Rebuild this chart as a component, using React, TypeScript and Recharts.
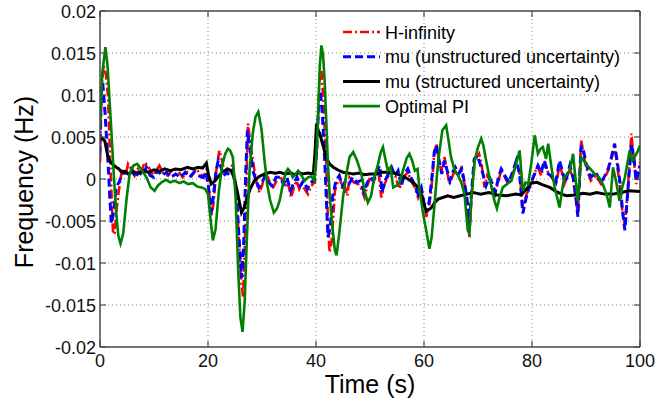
import React from 'react';
import { LineChart, Line, XAxis, YAxis, CartesianGrid, ReferenceLine, Legend } from 'recharts';

// ---------------- data (time s, frequency deviation Hz) ----------------
const xTicks = [0, 20, 40, 60, 80, 100];
const xTickLabels = ['0', '20', '40', '60', '80', '100'];
const yTicks = [-0.02, -0.015, -0.01, -0.005, 0, 0.005, 0.01, 0.015, 0.02];
const yTickLabels = ['-0.02', '-0.015', '-0.01', '-0.005', '0', '0.005', '0.01', '0.015', '0.02'];

const seriesNames = ['H-infinity', 'mu (unstructured uncertainty)', 'mu (structured uncertainty)', 'Optimal PI'];

const hInfinity: [number, number][] = [
  [0, 0.002], [0.3, 0.011], [0.7, 0.0135], [1.1, 0.0125], [1.5, 0.0097], [1.8, 0.0038], [2.1, -0.0014], [2.4, -0.0062],
  [2.7, -0.0066], [3.0, -0.004], [3.4, -0.0018], [3.9, 0.0004], [4.3, 0.0012], [4.8, 0.0006], [5.2, 0.0018], [5.8, 0.0012],
  [6.4, 0.0004], [7.0, 0.0012], [7.6, 0.0008], [8.3, 0.002], [9.0, 0.0014], [9.8, 0.0004], [10.4, 0.001], [11.0, 0.0016],
  [11.8, 0.0006], [12.6, 0.0004], [13.5, 0.0012], [14.4, 0.001], [15.3, 0.0002], [16.2, 0.0008], [17.0, 0.0004],
  [17.8, 0.0012], [18.6, 0.0006], [19.2, 0.0002], [19.7, 0.0012], [20.2, -0.0015], [20.6, -0.0045], [21.0, -0.003],
  [21.5, 0.0008], [22.1, 0.0034], [22.6, 0.0022], [23.1, 0.0006], [23.6, 0.0012], [24.0, 0.001], [24.5, 0.0016],
  [24.9, 0.0002], [25.3, -0.002], [25.7, -0.007], [26.1, -0.012], [26.5, -0.014], [26.9, -0.006], [27.4, 0.0066],
  [27.9, 0.004], [28.6, 0.001], [29.0, -0.0004], [29.5, -0.0016], [30.0, -0.0008], [30.6, 0.0006], [31.1, 0.0002],
  [31.9, -0.0012], [32.7, -0.0002], [33.4, 0.0004], [34.2, -0.001], [34.8, -0.0004], [35.4, -0.0022], [35.9, -0.001],
  [36.4, -0.0002], [36.9, -0.0012], [37.3, -0.0006], [37.9, -0.0012], [38.5, -0.0018], [39.0, -0.001], [39.4, -0.0006],
  [39.8, -0.0004], [40.2, 0.004], [40.6, 0.0115], [41.0, 0.013], [41.4, 0.009], [41.9, 0.0018], [42.2, -0.005],
  [42.5, -0.0087], [42.9, -0.0075], [43.5, -0.0014], [44.0, -0.0004], [44.4, 0.0002], [44.9, -0.0012], [45.3, -0.0008],
  [45.8, -0.002], [46.2, 0.0002], [47.0, -0.0004], [47.8, -0.0006], [48.4, -0.0012], [49.0, -0.0022], [49.5, -0.0008],
  [50.0, 0.0002], [50.6, -0.0004], [51.1, 0.0008], [51.5, 0.0012], [52.1, -0.0022], [52.7, -0.0006], [53.3, 0.0002],
  [54.0, 0.0012], [54.6, 0.0006], [55.2, -0.0008], [55.8, -0.001], [56.4, 0.0004], [57.0, 0.0008], [57.6, -0.0002],
  [58.3, -0.001], [58.9, -0.0022], [59.5, -0.0012], [60.0, -0.003], [60.4, -0.0045], [60.9, -0.0035], [61.4, -0.001],
  [61.9, 0.003], [62.3, 0.0042], [62.8, 0.002], [63.2, 0.001], [63.8, 0.0026], [64.3, 0.0008], [64.7, -0.0006],
  [65.2, 0.0002], [65.7, 0.001], [66.3, 0.0004], [66.8, 0.0012], [67.5, -0.0006], [68.0, -0.003], [68.4, -0.0069],
  [68.8, -0.002], [69.4, 0.0022], [70.2, 0.003], [70.7, 0.0016], [71.2, -0.001], [71.7, 0.0004], [72.2, -0.0002],
  [72.7, -0.0012], [73.1, -0.0018], [73.7, -0.0004], [74.3, 0.001], [75.0, 0.0002], [75.6, -0.0006], [76.3, 0.0004],
  [77.1, 0.0018], [77.7, 0.0008], [78.3, -0.0034], [79.0, -0.0018], [79.9, -0.0006], [80.5, 0.0008], [81.1, 0.0014],
  [81.7, 0.0004], [82.3, 0.0018], [83.0, 0.0008], [83.6, 0.0002], [84.5, -0.0006], [85.1, 0.0018], [85.6, 0.0006],
  [86.0, -0.0006], [86.5, 0.0002], [86.9, 0.0012], [87.5, 0.0004], [88.0, -0.0018], [88.5, -0.0041], [89.1, 0.0046],
  [89.6, 0.0028], [90.0, 0.0014], [90.9, -0.0002], [91.8, 0.0004], [92.8, -0.0006], [93.5, 0.0002], [94.1, 0.001],
  [94.7, 0.0024], [95.3, 0.0038], [95.8, 0.0016], [96.2, -0.0006], [96.7, -0.0036], [97.2, -0.0055], [97.8, -0.0006],
  [98.4, 0.0054], [98.9, 0.002], [99.3, -0.0006], [100, 0.002],
];

const muUnstructured: [number, number][] = [
  [0, 0.003], [0.2, 0.01], [0.5, 0.0115], [0.9, 0.0082], [1.2, 0.005], [1.5, 0.0018], [1.8, -0.002], [2.1, -0.0053],
  [2.5, -0.004], [3.0, -0.001], [3.5, -0.0004], [3.9, 0.0002], [4.5, 0.0008], [5.2, 0.0006], [5.9, 0.0012], [6.5, 0.0002],
  [7.2, 0.0008], [7.9, 0.0004], [8.6, 0.0014], [9.3, 0.0004], [10.0, 0.0002], [10.7, 0.001], [11.5, 0.0004], [12.3, 0.0008],
  [13.1, 0.0002], [14.0, 0.0006], [14.9, 0.0002], [15.8, 0.0008], [16.6, 0.0002], [17.4, 0.0008], [18.2, 0.0004],
  [19.0, 0.0002], [19.6, 0.0008], [20.1, -0.001], [20.6, -0.004], [21.0, -0.002], [21.5, 0.001], [21.9, 0.0022],
  [22.4, 0.0014], [22.9, 0.0004], [23.5, 0.0008], [24.0, 0.0004], [24.5, 0.001], [24.9, 0.0002], [25.3, -0.002],
  [25.7, -0.0065], [26.2, -0.0118], [26.6, -0.008], [27.0, 0.001], [27.3, 0.0058], [27.8, 0.0035], [28.4, 0.0008],
  [28.9, -0.0002], [29.4, -0.001], [30.0, -0.0004], [30.6, 0.0004], [31.2, -0.0004], [31.9, -0.0008], [32.6, 0.0002],
  [33.3, 0.0002], [34.0, -0.0006], [34.6, 0.0002], [35.3, -0.0014], [35.9, -0.0004], [36.5, 0.0002], [37.1, -0.0008],
  [37.7, -0.0002], [38.4, -0.0012], [39.0, -0.0004], [39.6, -0.0002], [40.1, 0.003], [40.5, 0.009], [40.8, 0.0105],
  [41.2, 0.0075], [41.7, 0.001], [42.2, -0.0069], [42.6, -0.006], [43.1, -0.002], [43.7, -0.0002], [44.3, 0.0004],
  [44.9, -0.0008], [45.5, -0.0002], [46.1, -0.0006], [46.8, 0.0002], [47.5, -0.0004], [48.2, -0.0002], [48.9, -0.0016],
  [49.5, -0.0004], [50.1, 0.0002], [50.7, -0.0002], [51.3, 0.001], [51.8, 0.0016], [52.2, -0.0016], [52.8, -0.0002],
  [53.4, 0.0006], [54.0, 0.0014], [54.6, 0.0004], [55.2, 0.001], [55.8, -0.0008], [56.4, 0.0006], [57.0, 0.0012],
  [57.6, 0.0002], [58.2, -0.0006], [58.9, -0.0018], [59.5, -0.001], [60.0, -0.0028], [60.5, -0.004], [61.0, -0.0025],
  [61.5, 0.0004], [61.9, 0.0032], [62.3, 0.004], [62.8, 0.0022], [63.3, 0.0006], [63.8, 0.0022], [64.3, 0.001],
  [64.8, -0.0002], [65.3, 0.0008], [65.8, 0.0014], [66.4, 0.0006], [67.0, 0.0012], [67.5, -0.0004], [68.0, -0.0025],
  [68.4, -0.0058], [68.8, -0.0015], [69.3, 0.0024], [69.8, 0.0028], [70.4, 0.0018], [71.0, 0.0004], [71.5, -0.0008],
  [72.1, 0.0002], [72.7, -0.0006], [73.2, -0.0016], [73.8, 0.0002], [74.3, 0.0012], [75.0, 0.0004], [75.7, -0.0004],
  [76.4, 0.0008], [77.1, 0.0022], [77.7, 0.0006], [78.3, -0.0041], [79.0, -0.002], [79.8, -0.0004], [80.5, 0.0006],
  [81.1, 0.0016], [81.7, 0.0008], [82.3, 0.0022], [83.0, 0.0006], [83.6, 0.0004], [84.4, -0.0004], [85.1, 0.0022],
  [85.6, 0.001], [86.1, -0.0004], [86.6, 0.0006], [87.0, 0.0016], [87.6, 0.0002], [88.1, -0.002], [88.5, -0.0045],
  [89.1, 0.004], [89.6, 0.0032], [90.1, 0.0016], [90.9, 0.0002], [91.8, 0.0008], [92.8, -0.0004], [93.5, 0.0004],
  [94.1, 0.0012], [94.7, 0.0026], [95.3, 0.0042], [95.8, 0.002], [96.3, -0.0004], [96.8, -0.004], [97.2, -0.0061],
  [97.8, -0.001], [98.4, 0.0042], [98.9, 0.0024], [99.3, -0.0002], [100, 0.0016],
];

const muStructured: [number, number][] = [
  [0, 0.005], [0.5, 0.0048], [0.9, 0.0045], [1.3, 0.0032], [1.6, 0.0024], [2.0, 0.002], [2.4, 0.0017], [3.0, 0.0014],
  [3.5, 0.0012], [4.0, 0.0008], [4.6, 0.0009], [5.3, 0.0006], [6.0, 0.0009], [7.0, 0.0007], [8.0, 0.001], [9.0, 0.0008],
  [10.0, 0.0011], [11.0, 0.0009], [12.0, 0.0012], [13.0, 0.001], [14.0, 0.0012], [15.0, 0.0011], [16.2, 0.0014],
  [17.2, 0.0012], [18.2, 0.0014], [19.0, 0.0013], [19.7, 0.0019], [20.1, 0.0005], [20.6, -0.0006], [21.2, -0.0003],
  [21.8, 0.0002], [22.6, 0.0008], [23.6, 0.0012], [24.3, 0.001], [24.8, 0.0002], [25.4, -0.0014], [26.2, -0.004],
  [26.7, -0.0034], [27.1, -0.0026], [27.8, -0.0012], [28.6, -0.0002], [29.5, 0.0003], [30.5, 0.0006], [31.5, 0.0008],
  [32.5, 0.0007], [33.3, 0.0008], [34.3, 0.0006], [35.3, 0.0007], [36.2, 0.0005], [36.7, 0.0008], [37.5, 0.0006],
  [38.5, 0.0007], [39.5, 0.0006], [39.8, 0.003], [40.1, 0.0066], [40.4, 0.0058], [40.7, 0.0054], [41.2, 0.0042],
  [41.9, 0.0026], [42.5, 0.0018], [43.2, 0.0014], [44.0, 0.0011], [45.0, 0.0008], [46.0, 0.0007], [46.9, 0.0006],
  [48.0, 0.0007], [49.0, 0.0005], [50.0, 0.0006], [51.2, 0.0006], [52.1, 0.0008], [53.0, 0.0008], [54.3, 0.0007],
  [55.0, 0.0006], [56.5, 0.0002], [58.0, -0.0004], [59.2, -0.0012], [59.8, -0.0026], [60.4, -0.0038], [61.0, -0.0036],
  [61.4, -0.0034], [62.0, -0.0028], [62.6, -0.0024], [63.5, -0.0022], [64.4, -0.002], [65.5, -0.0022], [66.7, -0.002],
  [68.0, -0.0018], [69.1, -0.0016], [70.5, -0.0018], [72.0, -0.0016], [73.5, -0.0019], [75.3, -0.002], [77.0, -0.0018],
  [78.0, -0.0019], [79.0, -0.0012], [79.8, -0.0005], [80.9, -0.0004], [82.0, -0.0007], [83.3, -0.001], [84.5, -0.0015],
  [85.5, -0.0018], [86.4, -0.002], [88.0, -0.0019], [89.5, -0.0017], [90.7, -0.0018], [92.0, -0.0016], [93.5, -0.0018],
  [95.0, -0.0018], [96.5, -0.0016], [98.0, -0.0014], [100, -0.0015],
];

const optimalPI: [number, number][] = [
  [0, 0.006], [0.4, 0.0125], [1.0, 0.0157], [1.4, 0.0135], [1.8, 0.009], [2.1, 0.0058], [2.6, 0.0], [3.0, -0.004],
  [3.4, -0.0068], [3.8, -0.0077], [4.3, -0.0065], [4.9, -0.0025], [5.5, 0.0007], [6.2, 0.0016], [6.9, 0.0018],
  [7.6, 0.0012], [8.6, 0.0002], [9.4, -0.001], [10.1, -0.0014], [10.7, -0.0008], [11.4, -0.0004], [12.2, -0.0001],
  [13.0, -0.0004], [13.8, -0.0002], [14.7, -0.0005], [15.5, -0.0003], [16.3, -0.0006], [17.2, -0.0005], [18.0, -0.0009],
  [18.8, -0.001], [19.5, -0.0012], [20.0, -0.0018], [20.5, -0.005], [20.9, -0.0073], [21.4, -0.006], [22.0, -0.0015],
  [22.6, 0.0015], [23.2, 0.003], [23.7, 0.0036], [24.1, 0.0034], [24.6, 0.0026], [25.1, -0.002], [25.6, -0.011],
  [26.0, -0.0165], [26.4, -0.0182], [26.8, -0.0145], [27.2, -0.007], [27.7, 0.001], [28.3, 0.0055], [28.8, 0.0074],
  [29.3, 0.008], [29.9, 0.006], [30.5, 0.002], [31.0, -0.0008], [31.5, -0.0025], [32.2, -0.004], [32.8, -0.0035],
  [33.3, -0.0025], [33.9, -0.0005], [34.4, 0.0008], [34.8, 0.0012], [35.3, 0.0008], [35.7, 0.0002], [36.2, 0.0006],
  [36.7, 0.001], [37.3, 0.0004], [37.9, -0.0002], [38.5, 0.0002], [39.1, 0.0003], [39.7, -0.0002], [40.1, 0.003],
  [40.4, 0.0078], [40.7, 0.0135], [41.0, 0.0159], [41.3, 0.0148], [41.6, 0.0117], [41.9, 0.007], [42.2, 0.0018],
  [42.6, -0.0025], [43.1, -0.0061], [43.5, -0.0085], [43.8, -0.0091], [44.3, -0.0065], [45.0, -0.0022], [45.6, 0.0005],
  [46.2, 0.0026], [46.9, 0.0032], [47.6, 0.0022], [48.4, 0.0006], [49.0, -0.0014], [49.6, -0.0028], [50.2, -0.002],
  [50.8, 0.0002], [51.5, 0.0018], [52.0, 0.0032], [52.4, 0.0038], [52.9, 0.0022], [53.3, 0.001], [53.8, 0.0014],
  [54.3, -0.001], [54.9, -0.0008], [55.5, -0.0004], [56.2, 0.0012], [56.8, 0.0025], [57.3, 0.003], [57.8, 0.0022],
  [58.3, 0.001], [58.8, 0.0012], [59.2, -0.0014], [59.8, -0.004], [60.4, -0.0061], [61.0, -0.0083], [61.4, -0.007],
  [61.9, -0.0034], [62.4, 0.0005], [62.8, 0.003], [63.4, 0.0058], [64.1, 0.0064], [64.5, 0.0048], [65.0, 0.0026],
  [65.6, 0.0012], [66.3, 0.0004], [66.9, -0.0004], [67.5, -0.0018], [68.1, -0.0061], [68.4, -0.0065], [68.8, -0.002],
  [69.4, 0.0022], [70.0, 0.0038], [70.6, 0.0048], [71.0, 0.004], [71.5, 0.0022], [72.0, 0.0006], [72.5, -0.001],
  [73.0, -0.0025], [73.5, -0.0035], [74.0, -0.0022], [74.6, -0.001], [75.4, -0.0006], [76.2, -0.0002], [76.9, 0.0014],
  [77.4, 0.0026], [77.7, 0.0034], [78.3, -0.0014], [78.8, -0.0004], [79.3, -0.0006], [79.9, 0.002], [80.5, 0.0052],
  [81.1, 0.003], [81.6, 0.0036], [82.0, 0.0038], [82.6, 0.0024], [83.0, 0.0042], [83.6, 0.0014], [84.2, -0.001],
  [85.1, -0.0034], [85.6, -0.0012], [86.0, 0.0002], [87.0, 0.001], [87.6, 0.003], [88.0, 0.0004], [88.5, -0.0026],
  [89.1, 0.0026], [90.0, 0.0018], [90.8, 0.0012], [91.6, 0.0006], [92.4, 0.0002], [93.1, -0.0006], [93.8, -0.0018],
  [94.4, -0.0034], [95.0, 0.0014], [95.6, -0.0004], [96.2, -0.0026], [96.7, -0.001], [97.2, 0.0002], [97.7, 0.002],
  [98.1, 0.0034], [98.6, 0.0022], [99.0, 0.0026], [99.5, 0.0032], [100, 0.004],
];

// ---------------- layout / style ----------------
const W = 661;
const H = 402;
const MARGIN = { top: 11, right: 21, bottom: 0, left: 0 };
const Y_AXIS_W = 100;
const X_AXIS_H = 55;
const PLOT_RIGHT = W - MARGIN.right;
const PLOT_TOP = MARGIN.top;
const FONT = "'Liberation Sans', Arial, Helvetica, sans-serif";
const AXIS_COLOR = '#4a4a4a';
const TICK_LEN = 6;

const styles = [
  { color: '#ff0000', dash: '9 3 2 3', width: 2.6 },
  { color: '#0000ff', dash: '8 4', width: 3 },
  { color: '#000000', dash: undefined as string | undefined, width: 3 },
  { color: '#008000', dash: undefined as string | undefined, width: 2.6 },
];

const toPoints = (arr: [number, number][]) => arr.map(([t, v]) => ({ t, v }));
const seriesData = [hInfinity, muUnstructured, muStructured, optimalPI].map(toPoints);

const XTick = (props: any) => {
  const { x, y, payload } = props;
  const idx = xTicks.indexOf(payload.value);
  return (
    <g>
      <line x1={x} y1={y} x2={x} y2={y - TICK_LEN} stroke={AXIS_COLOR} strokeWidth={1.2} />
      <line x1={x} y1={PLOT_TOP} x2={x} y2={PLOT_TOP + TICK_LEN} stroke={AXIS_COLOR} strokeWidth={1.2} />
      <text x={x} y={y + 19.5} textAnchor="middle" fontSize={18} fontFamily={FONT} fill="#111">
        {idx >= 0 ? xTickLabels[idx] : payload.value}
      </text>
    </g>
  );
};

const YTick = (props: any) => {
  const { x, y, payload } = props;
  const idx = yTicks.indexOf(payload.value);
  return (
    <g>
      <line x1={x} y1={y} x2={x + TICK_LEN} y2={y} stroke={AXIS_COLOR} strokeWidth={1.2} />
      <line x1={PLOT_RIGHT - TICK_LEN} y1={y} x2={PLOT_RIGHT} y2={y} stroke={AXIS_COLOR} strokeWidth={1.2} />
      <text x={x - 4} y={y + 6.5} textAnchor="end" fontSize={18} fontFamily={FONT} fill="#111">
        {idx >= 0 ? yTickLabels[idx] : payload.value}
      </text>
    </g>
  );
};

const YLabel = (props: any) => {
  const vb = props.viewBox || { x: 0, y: PLOT_TOP, width: Y_AXIS_W, height: 336 };
  const cx = vb.x + 33;
  const cy = vb.y + vb.height / 2 + 3;
  return (
    <text x={cx} y={cy} transform={`rotate(-90, ${cx}, ${cy})`} textAnchor="middle" fontSize={25} fontFamily={FONT} fill="#000">
      Frequency (Hz)
    </text>
  );
};

const XLabel = (props: any) => {
  const vb = props.viewBox || { x: Y_AXIS_W, y: 347, width: 540, height: X_AXIS_H };
  return (
    <text x={vb.x + vb.width / 2} y={vb.y + 46} textAnchor="middle" fontSize={25} fontFamily={FONT} fill="#000">
      Time (s)
    </text>
  );
};

const LegendContent = () => (
  <svg width={300} height={110} style={{ display: 'block' }}>
    {seriesNames.map((name, i) => {
      const cy = 14 + i * 24.7;
      const s = styles[i];
      return (
        <g key={name}>
          <line x1={3} y1={cy} x2={40} y2={cy} stroke={s.color} strokeWidth={s.width} strokeDasharray={s.dash} />
          <text x={45} y={cy + 6.5} fontSize={18} fontFamily={FONT} fill="#000">
            {name}
          </text>
        </g>
      );
    })}
  </svg>
);

export default function App() {
  return (
    <div style={{ position: 'absolute', left: 0, top: 0, width: W, height: H, background: '#fff' }}>
      <LineChart width={W} height={H} margin={MARGIN}>
        <CartesianGrid stroke="#8a8a8a" strokeDasharray="1 3" strokeWidth={1} />
        <XAxis
          dataKey="t"
          type="number"
          domain={[0, 100]}
          ticks={xTicks}
          interval={0}
          allowDataOverflow
          height={X_AXIS_H}
          tickSize={0}
          tickMargin={0}
          tick={<XTick />}
          axisLine={{ stroke: AXIS_COLOR, strokeWidth: 1.5 }}
          label={<XLabel />}
        />
        <YAxis
          type="number"
          domain={[-0.02, 0.02]}
          ticks={yTicks}
          interval={0}
          allowDataOverflow
          width={Y_AXIS_W}
          tickSize={0}
          tickMargin={0}
          tick={<YTick />}
          axisLine={{ stroke: AXIS_COLOR, strokeWidth: 1.5 }}
          label={<YLabel />}
        />
        <ReferenceLine y={0.02} stroke={AXIS_COLOR} strokeWidth={1.5} />
        <ReferenceLine x={100} stroke={AXIS_COLOR} strokeWidth={1.5} />
        {seriesData.map((d, i) => (
          <Line
            key={seriesNames[i]}
            data={d}
            dataKey="v"
            name={seriesNames[i]}
            type="linear"
            dot={false}
            activeDot={false}
            stroke={styles[i].color}
            strokeWidth={styles[i].width}
            strokeDasharray={styles[i].dash}
            isAnimationActive={false}
          />
        ))}
        <Legend
          layout="vertical"
          align="center"
          verticalAlign="middle"
          content={<LegendContent />}
          wrapperStyle={{ position: 'absolute', left: 340, top: 18, width: 300, height: 110 }}
        />
      </LineChart>
    </div>
  );
}
